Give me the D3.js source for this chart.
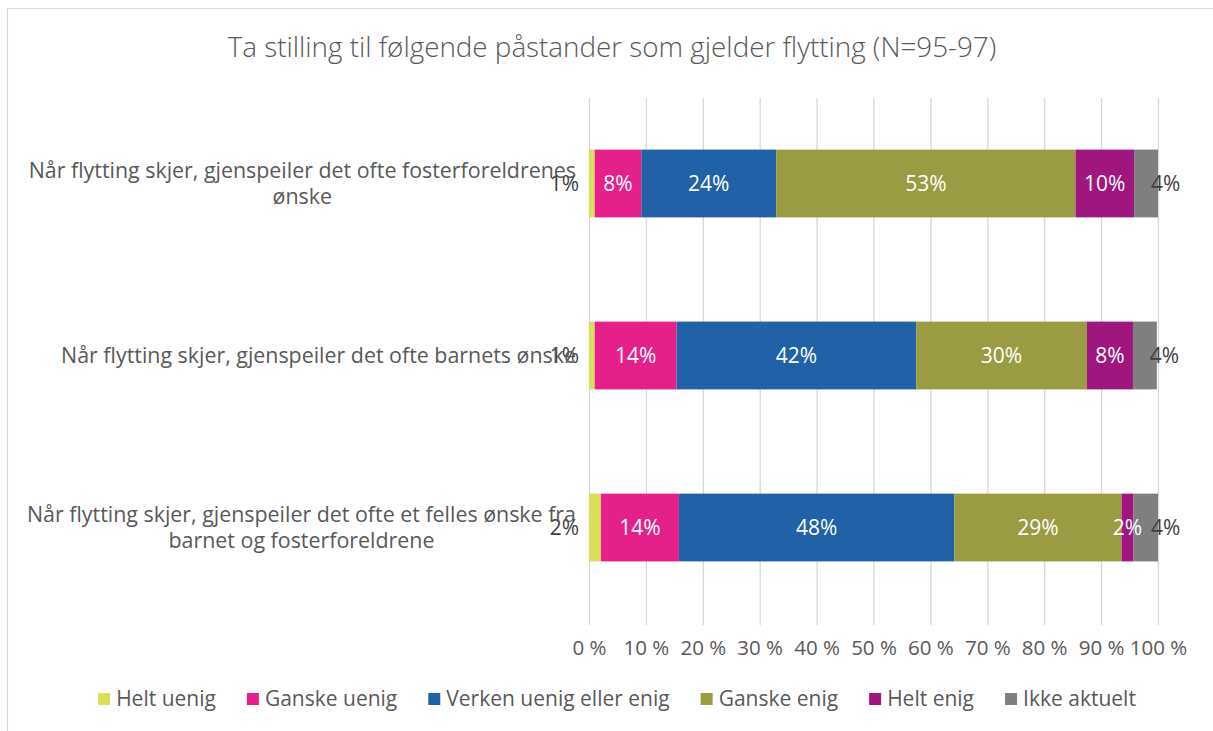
<!DOCTYPE html>
<html>
<head>
<meta charset="utf-8">
<script src="https://cdn.jsdelivr.net/npm/d3@7"></script>
<style>
  body { margin: 0; background: #fff; }
  svg { display: block; font-family: "Open Sans", Lato, sans-serif; }
</style>
</head>
<body>
<div id="wrapper"></div>
<script>
// statements (rows, top to bottom)
const categories = [
  'Når flytting skjer, gjenspeiler det ofte fosterforeldrenes|ønske',
  'Når flytting skjer, gjenspeiler det ofte barnets ønske',
  'Når flytting skjer, gjenspeiler det ofte et felles ønske fra|barnet og fosterforeldrene'
]
const seriesNames = ['Helt uenig', 'Ganske uenig', 'Verken uenig eller enig', 'Ganske enig', 'Helt enig', 'Ikke aktuelt']
const seriesColors = ['#d9df5b', '#e5208a', '#2161a8', '#9a9b42', '#a0167f', '#7f7f7f']

// percent per series, one value per row
const heltUenig = [1.0, 1.0, 2.1]
const ganskeUenig = [8.2, 14.4, 13.7]
const verken = [23.7, 42.1, 48.4]
const ganskeEnig = [52.6, 30.0, 29.4]
const heltEnig = [10.3, 8.1, 2.1]
const ikkeAktuelt = [4.2, 4.2, 4.3]

const tickValues = [0, 10, 20, 30, 40, 50, 60, 70, 80, 90, 100]

const width = 1213
const height = 731
const margin = { top: 98, right: 55, bottom: 116, left: 589 }
const font = '"Open Sans", Lato, sans-serif'

const svg = d3.select('#wrapper')
  .append('svg')
  .attr('width', width)
  .attr('height', height)

// chart frame
svg.append('path')
  .attr('d', `M7.5,${height + 2} V8.5 H${width + 2}`)
  .attr('fill', 'none')
  .attr('stroke', '#d9d9d9')
  .attr('stroke-width', 1.2)

// title
svg.append('text')
  .attr('x', 612)
  .attr('y', 57)
  .attr('text-anchor', 'middle')
  .attr('font-size', '27.8px')
  .attr('font-weight', 300)
  .attr('fill', '#595959')
  .text('Ta stilling til følgende påstander som gjelder flytting (N=95-97)')

const xScale = d3.scaleLinear()
  .domain([0, 100])
  .range([margin.left, width - margin.right])

const yScale = d3.scaleBand()
  .domain(categories)
  .range([margin.top, height - margin.bottom - 2])
  .paddingInner(0.606)
  .paddingOuter(0.3)

// gridlines + ticks
const xAxis = svg.append('g')
  .attr('class', 'x-axis')
  .attr('transform', `translate(0, ${margin.top})`)
  .call(d3.axisBottom(xScale)
    .tickValues(tickValues)
    .tickSize(527)
    .tickFormat(d => d + ' %'))
xAxis.select('.domain').remove()
xAxis.selectAll('.tick line').attr('stroke', '#d9d9d9').attr('stroke-width', 1.3)
xAxis.selectAll('.tick text')
  .attr('y', 557)
  .attr('dy', 0)
  .attr('font-size', '20.5px')
  .attr('font-family', font)
  .attr('fill', '#595959')

// stack rows
const rows = categories.map((c, i) => ({
  category: c,
  values: [heltUenig[i], ganskeUenig[i], verken[i], ganskeEnig[i], heltEnig[i], ikkeAktuelt[i]]
}))

const segments = []
rows.forEach(r => {
  let acc = 0
  r.values.forEach((v, k) => {
    segments.push({ category: r.category, series: k, value: v, x0: acc, x1: acc + v })
    acc += v
  })
})

const bars = svg.append('g').attr('class', 'bars')
bars.selectAll('rect')
  .data(segments)
  .enter()
  .append('rect')
  .attr('x', d => xScale(d.x0))
  .attr('y', d => yScale(d.category))
  .attr('width', d => xScale(d.x1) - xScale(d.x0))
  .attr('height', yScale.bandwidth())
  .attr('fill', d => seriesColors[d.series])

// data labels
bars.selectAll('text')
  .data(segments)
  .enter()
  .append('text')
  .attr('x', d => {
    if (d.series === 0) return xScale(d.x0) - 10
    if (d.series === 5) return xScale(d.x1) - 7
    return (xScale(d.x0) + xScale(d.x1)) / 2
  })
  .attr('y', d => yScale(d.category) + yScale.bandwidth() / 2)
  .attr('dy', '0.35em')
  .attr('text-anchor', d => d.series === 0 ? 'end' : (d.series === 5 ? 'start' : 'middle'))
  .attr('font-size', '21px')
  .attr('fill', d => (d.series === 0 || d.series === 5) ? '#404040' : '#ffffff')
  .text(d => Math.round(d.value) + '%')

// category labels, lines centred in a block right-aligned to the axis
const catG = svg.append('g').attr('class', 'categories')
categories.forEach(c => {
  const lines = c.split('|')
  const g = catG.append('g')
  const texts = lines.map((l, i) => g.append('text')
    .attr('font-size', '21.4px')
    .attr('fill', '#595959')
    .attr('text-anchor', 'middle')
    .attr('y', yScale(c) + yScale.bandwidth() / 2 + (i - (lines.length - 1) / 2) * 26)
    .attr('dy', '0.35em')
    .text(l))
  const maxW = d3.max(texts, t => t.node().getComputedTextLength())
  texts.forEach(t => t.attr('x', 576 - maxW / 2))
})

// legend
const legend = svg.append('g').attr('class', 'legend')
let lx = 0
seriesNames.forEach((name, k) => {
  const item = legend.append('g').attr('transform', `translate(${lx}, 0)`)
  item.append('rect')
    .attr('x', 0).attr('y', -6)
    .attr('width', 12).attr('height', 12)
    .attr('fill', seriesColors[k])
  const t = item.append('text')
    .attr('x', 18)
    .attr('dy', '0.35em')
    .attr('font-size', '21px')
    .attr('fill', '#595959')
    .text(name)
  lx += 18 + t.node().getComputedTextLength() + 31
})
const legendW = lx - 31
legend.attr('transform', `translate(${617 - legendW / 2}, 699)`)
</script>
</body>
</html>
